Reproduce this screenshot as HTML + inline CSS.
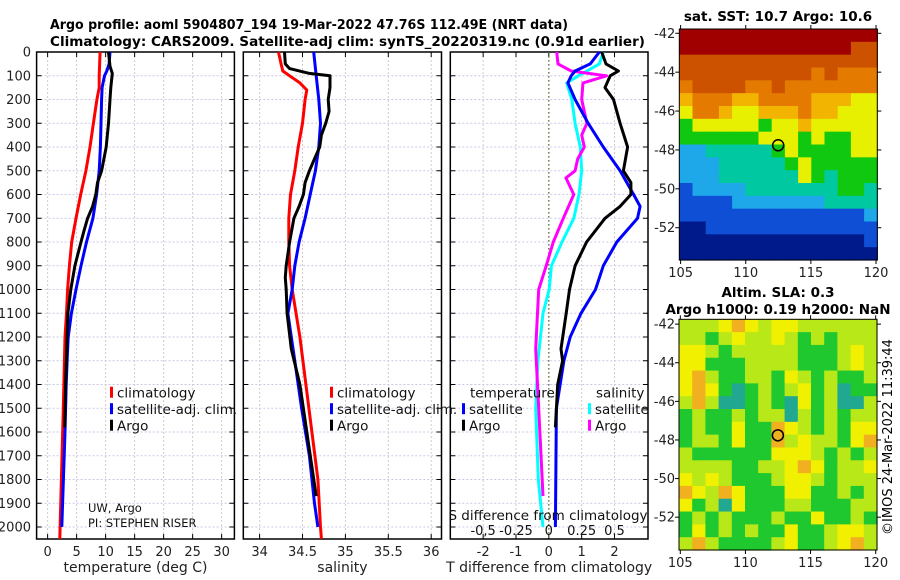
<!DOCTYPE html>
<html><head><meta charset="utf-8"><style>
html,body{margin:0;padding:0;background:#fff;}
svg{display:block;font-family:"DejaVu Sans","Liberation Sans",sans-serif;}
</style></head><body>
<svg id="fig" width="900" height="580" viewBox="0 0 900 580" xmlns="http://www.w3.org/2000/svg">
<g id="titles">
<text x="50" y="29" font-weight="bold" font-size="13" textLength="518" lengthAdjust="spacingAndGlyphs">Argo profile: aoml 5904807_194 19-Mar-2022 47.76S 112.49E (NRT data)</text>
<text x="50" y="46" font-weight="bold" font-size="13" textLength="595" lengthAdjust="spacingAndGlyphs">Climatology: CARS2009. Satellite-adj clim: synTS_20220319.nc (0.91d earlier)</text>
<text x="778" y="21" text-anchor="middle" font-weight="bold" font-size="13.5">sat. SST: 10.7 Argo: 10.6</text>
<text x="778" y="297" text-anchor="middle" font-weight="bold" font-size="13.5">Altim. SLA: 0.3</text>
<text x="778" y="314" text-anchor="middle" font-weight="bold" font-size="13.5">Argo h1000: 0.19 h2000: NaN</text>
<text transform="translate(892,437) rotate(-90)" text-anchor="middle" font-size="13">©IMOS 24-Mar-2022 11:39:44</text>
</g>
</svg>
<script>
// ---------- data ----------
const depthTicks = [0,100,200,300,400,500,600,700,800,900,1000,1100,1200,1300,1400,1500,1600,1700,1800,1900,2000];
const tempTicks = [0,5,10,15,20,25,30];
const salTicks = [34,34.5,35,35.5,36];
const salTickLabels = ["34","34.5","35","35.5","36"];
const diffTicks = [-2,-1,0,1,2];
const sdiffTicks = [-0.5,-0.25,0,0.25,0.5];
const sdiffTickLabels = ["-0,5","-0.25","0","0.25","0.5"];

const tClimDepth = [0,100,150,200,300,400,500,600,700,800,900,1000,1100,1200,1500,2000,2050];
const tClim = [9.05,8.9,8.9,8.5,7.9,7.3,6.6,5.7,4.9,4.15,3.75,3.45,3.25,3.0,2.7,2.15,2.1];
const tSatDepth = [0,50,80,100,150,200,300,400,500,600,700,800,900,1000,1100,1200,1300,1400,1600,2000];
const tSat = [10.75,10.6,10.2,9.8,9.4,9.3,9.2,9.1,8.9,8.45,7.8,6.7,5.75,4.9,4.1,3.55,3.35,3.2,3.0,2.45];
const tArgoDepth = [0,60,90,150,200,300,400,500,550,600,650,700,750,800,900,1000,1100,1200,1400,1580];
const tArgo = [10.5,10.75,11.15,10.9,10.75,10.5,10.1,9.3,8.6,8.3,7.75,6.9,6.3,5.75,4.7,4.0,3.5,3.35,3.1,2.95];

const sClimDepth = [0,50,80,100,130,160,200,300,400,500,600,700,800,900,1000,1200,1400,1600,1800,2000,2050];
const sClim = [34.22,34.25,34.27,34.35,34.47,34.55,34.53,34.5,34.45,34.41,34.36,34.34,34.34,34.35,34.38,34.47,34.54,34.61,34.68,34.71,34.72];
const sSatDepth = [0,100,200,300,400,500,600,700,800,900,1000,1100,1200,1300,1500,1700,1900,2000];
const sSat = [34.63,34.66,34.69,34.71,34.69,34.65,34.59,34.53,34.46,34.41,34.38,34.33,34.37,34.41,34.49,34.58,34.64,34.68];
const sArgoDepth = [0,50,70,90,100,150,200,250,300,350,400,450,500,550,600,650,700,800,900,950,1000,1100,1250,1400,1600,1870];
const sArgo = [34.29,34.3,34.35,34.58,34.82,34.82,34.8,34.81,34.77,34.72,34.7,34.64,34.58,34.53,34.51,34.46,34.4,34.35,34.31,34.3,34.31,34.32,34.37,34.47,34.55,34.66];

const dTSatDepth = [0,50,80,100,130,200,300,400,500,600,650,700,800,900,1000,1100,1200,1300,1500,2000];
const dTSat = [1.54,1.26,0.8,0.68,0.58,0.8,1.2,1.66,2.17,2.58,2.78,2.7,2.07,1.66,1.42,0.98,0.65,0.46,0.23,0.2];
const dTArgoDepth = [0,50,80,100,150,200,300,400,500,550,600,650,700,800,900,1000,1100,1250,1300,1400,1580];
const dTArgo = [1.61,1.74,2.12,1.87,1.71,1.97,2.17,2.4,2.27,2.5,2.5,2.17,1.71,1.15,0.8,0.63,0.53,0.37,0.42,0.27,0.2];
const dSSatDepth = [0,50,100,130,200,300,400,500,600,700,800,900,1000,1100,1300,1500,1800,2000];
const dSSat = [0.415,0.385,0.225,0.136,0.175,0.2,0.24,0.25,0.23,0.19,0.1,0.02,0.003,-0.044,-0.083,-0.1,-0.08,-0.044];
const dSArgoDepth = [0,50,80,100,130,200,300,350,400,450,500,530,600,700,800,900,1000,1250,1500,1870];
const dSArgo = [0.06,0.07,0.17,0.44,0.26,0.25,0.29,0.25,0.27,0.22,0.2,0.13,0.19,0.11,0.034,-0.02,-0.077,-0.1,-0.077,-0.044];

const lonTicks = [105,110,115,120];
const latTicks = [-42,-44,-46,-48,-50,-52];
const floatLon = [112.49];
const floatLat = [-47.76];
const sstRows = [
"999999999999999","999999999999988","888888888888888","888888888878777",
"788887787777777","677766777766655","577655666766555","455555455655555",
"444444555454455","223333345444455","222333334544444","222333333543444",
"122223333333443","111122222223333","111111111111112","001111111111111",
"000000000000001","000000000000000"];
const slaRows = [
"222343233222222","221232232121222","332122222111232","331112222111232",
"342112213212112","343101212312011","242001210312002","121121220212122",
"121131143212133","122131142322134","211111133321212","222211223431223",
"323211123321222","432431113311212","312031112211122","121211121131121",
"131212113112332","242111123112342"];

// ---------- helpers ----------
const NS="http://www.w3.org/2000/svg";
const svg=document.getElementById('fig');
function mk(tag,attrs,parent){const e=document.createElementNS(NS,tag);for(const k in attrs)e.setAttribute(k,attrs[k]);(parent||svg).appendChild(e);return e;}
const TOP=52, BOT=539;
function yD(d){return TOP + d*0.2375;}

const panels=[
 {name:'temperature-panel',x0:36.6,x1:234.4,dmin:-1.9,dmax:32.2,ticks:tempTicks,labels:tempTicks.map(String),title:'temperature (deg C)'},
 {name:'salinity-panel',x0:243.3,x1:441.5,dmin:33.81,dmax:36.12,ticks:salTicks,labels:salTickLabels,title:'salinity'},
 {name:'difference-panel',x0:450.3,x1:648,dmin:-3.0,dmax:3.02,ticks:diffTicks,labels:diffTicks.map(String),title:'T difference from climatology'}
];
panels.forEach(p=>{p.sx=v=>p.x0+(v-p.dmin)/(p.dmax-p.dmin)*(p.x1-p.x0);});

panels.forEach((p,pi)=>{
  const g=mk('g',{});
  
  
  depthTicks.forEach(d=>{
    const l=mk('line',{x1:p.x0,x2:p.x1,y1:yD(d),y2:yD(d),stroke:'#c8c8e8','stroke-width':1,'stroke-dasharray':'2,2'},g);
    
    
    mk('line',{x1:p.x0,x2:p.x0+5,y1:yD(d),y2:yD(d),stroke:'#000'},g);
    mk('line',{x1:p.x1-5,x2:p.x1,y1:yD(d),y2:yD(d),stroke:'#000'},g);
  });
  p.ticks.forEach((t,i)=>{
    const x=p.sx(t);
    const l=mk('line',{x1:x,x2:x,y1:TOP,y2:BOT,stroke:'#d8c8c8','stroke-width':1,'stroke-dasharray':'2,2'},g);
    
    
    mk('line',{x1:x,x2:x,y1:BOT-5,y2:BOT,stroke:'#000'},g);
    mk('line',{x1:x,x2:x,y1:TOP,y2:TOP+5,stroke:'#000'},g);
    const tx=mk('text',{x:x,y:556,'text-anchor':'middle','font-size':13,fill:'#222'},g);
    tx.textContent=p.labels[i];
    
    
  });
  const fr=mk('rect',{x:p.x0,y:TOP,width:p.x1-p.x0,height:BOT-TOP,fill:'none',stroke:'#000','stroke-width':1.5},g);
  
  
  const at=mk('text',{x:(p.x0+p.x1)/2,y:572,'text-anchor':'middle','font-size':14,fill:'#222'},g);
  at.textContent=p.title;
  
  
});
depthTicks.forEach(d=>{
  const t=mk('text',{x:31,y:yD(d)+4.5,'text-anchor':'end','font-size':13,fill:'#222'});
  t.textContent=String(d);
  
  
});
{
  const p=panels[2];
  const l=mk('line',{x1:p.sx(0),x2:p.sx(0),y1:TOP,y2:BOT,stroke:'#556b2f','stroke-width':1.2,'stroke-dasharray':'1.5,2.5'});
  
  
}
function drawLine(p,depths,vals,color,name,scale){
  scale=scale||1;
  const pts=depths.map((d,i)=>p.sx(vals[i]*scale).toFixed(1)+','+yD(d).toFixed(1)).join(' ');
  const e=mk('polyline',{points:pts,fill:'none',stroke:color,'stroke-width':3,'stroke-linejoin':'round'});
  
  
}
drawLine(panels[0],tClimDepth,tClim,'#ff0000','temp-climatology-line');
drawLine(panels[0],tSatDepth,tSat,'#0000ff','temp-satellite-line');
drawLine(panels[0],tArgoDepth,tArgo,'#000000','temp-argo-line');
drawLine(panels[1],sClimDepth,sClim,'#ff0000','sal-climatology-line');
drawLine(panels[1],sSatDepth,sSat,'#0000ff','sal-satellite-line');
drawLine(panels[1],sArgoDepth,sArgo,'#000000','sal-argo-line');
drawLine(panels[2],dSSatDepth,dSSat,'#00ffff','sdiff-satellite-line',4);
drawLine(panels[2],dSArgoDepth,dSArgo,'#ff00ff','sdiff-argo-line',4);
drawLine(panels[2],dTSatDepth,dTSat,'#0000ff','tdiff-satellite-line');
drawLine(panels[2],dTArgoDepth,dTArgo,'#000000','tdiff-argo-line');

sdiffTicks.forEach((s,i)=>{
  const t=mk('text',{x:panels[2].sx(s*4),y:535,'text-anchor':'middle','font-size':13,fill:'#111'});
  t.textContent=sdiffTickLabels[i];
  
  
});
{const t=mk('text',{x:548,y:520,'text-anchor':'middle','font-size':13.5,fill:'#111'});t.textContent='S difference from climatology';

}

function legend(x,y,color,label,name){
  const g=mk('g',{});
  
  
  mk('rect',{x:x,y:y-6,width:3,height:11,fill:color},g);
  const t=mk('text',{x:x+7,y:y+5,'font-size':13.5,fill:'#111'},g);t.textContent=label;
}
legend(110,392.7,'#ff0000','climatology','legend-climatology');
legend(110,409.2,'#0000ff','satellite-adj. clim.','legend-satellite-adj');
legend(110,425.7,'#000000','Argo','legend-argo');
legend(330,392.7,'#ff0000','climatology','legend-sal-climatology');
legend(330,409.2,'#0000ff','satellite-adj. clim.','legend-sal-satellite-adj');
legend(330,425.7,'#000000','Argo','legend-sal-argo');
{const t=mk('text',{x:470,y:397.5,'font-size':13.5,fill:'#111'});t.textContent='temperature';

const t2=mk('text',{x:596,y:397.5,'font-size':13.5,fill:'#111'});t2.textContent='salinity';
}
legend(462,409.2,'#0000ff','satellite','legend-tdiff-satellite');
legend(462,425.7,'#000000','Argo','legend-tdiff-argo');
legend(588,409.2,'#00ffff','satellite','legend-sdiff-satellite');
legend(588,425.7,'#ff00ff','Argo','legend-sdiff-argo');
{const t=mk('text',{x:88,y:512,'font-size':11.5,fill:'#111'});t.textContent='UW, Argo';

const t2=mk('text',{x:88,y:527,'font-size':11.5,fill:'#111'});t2.textContent='PI: STEPHEN RISER';
}

// ---------- maps ----------
const sstColors=['#001a8c','#0f4fd6','#1ea8ea','#00c8a0','#10c810','#e6f000','#f2b400','#e57a00','#cc5200','#a00000'];
const slaColors=['#20a890','#20c830','#b8e818','#f0f000','#f0b020'];
function drawMap(name,L,R,T,B,latTop,latBot,rows,colors){
  const g=mk('g',{});
  
  
  const lonMin=104.9, lonMax=120.1;
  const sx=lon=>L+(lon-lonMin)/(lonMax-lonMin)*(R-L);
  const sy=lat=>T+(latTop-lat)/(latTop-latBot)*(B-T);
  const nr=rows.length, nc=rows[0].length;
  const dlat=(latTop-latBot)/nr, dlon=(lonMax-lonMin)/nc;
  rows.forEach((row,ri)=>{
    for(let ci=0;ci<nc;ci++){
      const lon0=lonMin+ci*dlon, lat0=latTop-ri*dlat;
      const c=mk('rect',{x:sx(lon0).toFixed(2),y:sy(lat0).toFixed(2),width:(sx(lon0+dlon)-sx(lon0)+0.6).toFixed(2),height:(sy(lat0-dlat)-sy(lat0)+0.6).toFixed(2),fill:colors[+row[ci]]},g);
      
      
    }
  });
  mk('rect',{x:L,y:T,width:R-L,height:B-T,fill:'none',stroke:'#000','stroke-width':1},g);
  lonTicks.forEach(lon=>{
    const x=sx(lon);
    mk('line',{x1:x,x2:x,y1:B,y2:B+4,stroke:'#000'},g);
    mk('line',{x1:x,x2:x,y1:T-4,y2:T,stroke:'#000'},g);
    const t=mk('text',{x:x,y:B+17,'text-anchor':'middle','font-size':13,fill:'#222'},g);t.textContent=String(lon);
    
    
  });
  latTicks.forEach(lat=>{
    const y=sy(lat);
    mk('line',{x1:L-4,x2:L,y1:y,y2:y,stroke:'#000'},g);
    mk('line',{x1:R,x2:R+4,y1:y,y2:y,stroke:'#000'},g);
    const t=mk('text',{x:L-4,y:y+4.5,'text-anchor':'end','font-size':13,fill:'#222'},g);t.textContent=String(lat);
    
    
  });
  const c=mk('circle',{cx:sx(floatLon[0]),cy:sy(floatLat[0]),r:5.5,fill:'none',stroke:'#000','stroke-width':1.5},g);
  
  
}
drawMap('sst-map',679.3,877.3,29,260,-41.78,-53.66,sstRows,sstColors);
drawMap('sla-map',679,877,319.3,550,-41.75,-53.7,slaRows,slaColors);
</script>
</body></html>
